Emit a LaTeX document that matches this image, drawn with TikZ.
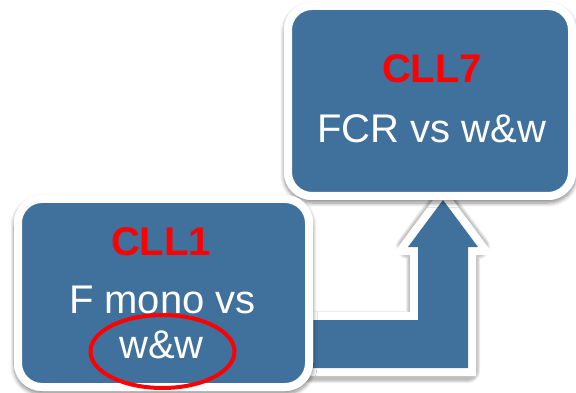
\documentclass[tikz,border=0pt]{standalone}
\usepackage{fontspec}
\setmainfont{Liberation Sans}
\usetikzlibrary{calc,shapes.geometric,shadows.blur}
\definecolor{boxblue}{RGB}{64,112,156}
\definecolor{labelred}{RGB}{255,0,0}
\begin{document}
\begin{tikzpicture}[x=1pt,y=-1pt,
  softshadow/.style={blur shadow={shadow xshift=0pt,shadow yshift=-3pt,
      shadow blur radius=4pt,shadow blur steps=8,shadow opacity=45}},
  panel/.style={draw=white,line width=8pt,fill=boxblue,rounded corners=24pt,
      inner sep=0pt},
  title/.style={anchor=base,text=labelred,font=\fontsize{40}{48}\selectfont\bfseries},
  body/.style={anchor=base,text=white,font=\fontsize{40}{48}\selectfont},
]
\useasboundingbox (0,0) rectangle (576,393);

% bent arrow leading from the lower panel up to the upper one
\coordinate (tail) at (300,344);
\coordinate (tip) at (443,200);
\def\arrowpath{(tail|-0,320) -- ($(tip|-0,320)+(-25,0)$) -- ($(tip)+(-25,47)$)
  -- ($(tip)+(-35,47)$) -- (tip) -- ($(tip)+(35,47)$) -- ($(tip)+(25,47)$)
  -- ($(tip|-0,368)+(25,0)$) -- (tail|-0,368) -- cycle}
% soft shadow of the arrow's white rim, built up from a few wide strokes
\foreach \w in {24,22,20,18}
  \draw[black,opacity=0.07,line width=\w pt,line join=round,yshift=-3pt] \arrowpath;
\draw[white,line width=16pt,line join=miter] \arrowpath;
\fill[boxblue] \arrowpath;

% panels, each with a soft shadow under its white rim
\fill[softshadow,white,rounded corners=28pt] (284,2) rectangle (576,200);
\node[panel,minimum width=284pt,minimum height=190pt] (top) at (430,101) {};
\fill[softshadow,white,rounded corners=28pt] (14,195) rectangle (313,391);
\node[panel,minimum width=291pt,minimum height=188pt] (bottom) at (163.5,293) {};

% labels
\node[title] (t7) at (432,83) {CLL7};
\node[body] (b7) at (432,143) {FCR vs w\&w};
\node[title] (t1) at (161,255) {CLL1};
\node[body] (b1) at (162.5,313) {F mono vs};
\node[body] (b1b) at (161.5,358) {w\&w};

% highlight ring
\node[draw=labelred,line width=4pt,ellipse,inner sep=0pt,
      minimum width=144pt,minimum height=73pt] (ring) at (162.5,351.5) {};
\end{tikzpicture}
\end{document}
